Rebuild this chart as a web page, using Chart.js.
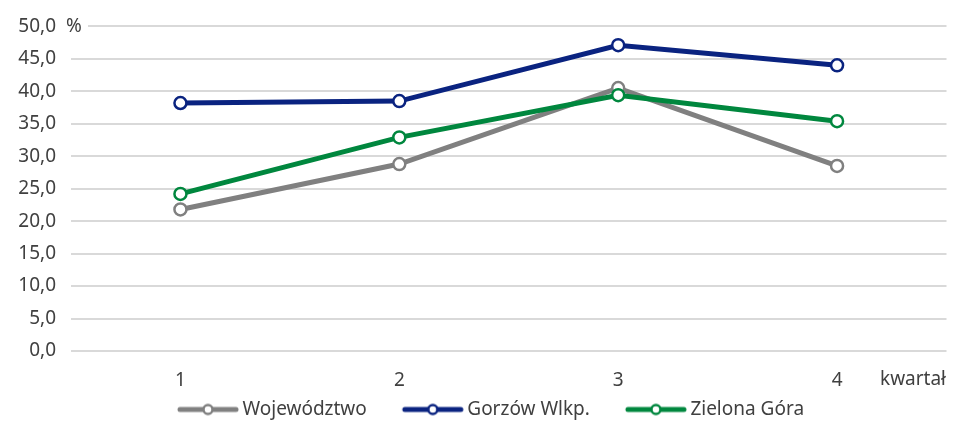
<!DOCTYPE html>
<html>
<head>
<meta charset="utf-8">
<script src="https://cdn.jsdelivr.net/npm/chart.js@4"></script>
<style>
  html, body { margin: 0; padding: 0; background: #fff; }
  #wrap { width: 955px; height: 421px; }
</style>
</head>
<body>
<div id="wrap"><canvas id="chart"></canvas></div>
<script>
const quarters = ['1', '2', '3', '4'];
const wojewodztwo = [21.8, 28.8, 40.5, 28.5];
const gorzow = [38.2, 38.5, 47.1, 44.0];
const zielonaGora = [24.2, 32.9, 39.4, 35.4];

const FONT = '"Noto Sans", sans-serif';
const TEXT = '#404040';
const FS = 19;

// small line+circle picture for the legend (transparent space on the left as item gap)
function legendIcon(color) {
    const c = document.createElement('canvas');
    c.width = 104; c.height = 14;
    const g = c.getContext('2d');
    g.strokeStyle = color; g.lineWidth = 5; g.lineCap = 'round';
    g.beginPath(); g.moveTo(44, 7); g.lineTo(100, 7); g.stroke();
    g.fillStyle = '#fff'; g.lineWidth = 2.5;
    g.beginPath(); g.arc(72, 7, 4.5, 0, Math.PI * 2); g.fill(); g.stroke();
    return c;
}

function series(label, data, color, order) {
    return {
        label: label,
        data: data,
        borderColor: color,
        backgroundColor: color,
        borderWidth: 5,
        pointRadius: 6,
        pointBorderWidth: 2.5,
        pointBackgroundColor: '#fff',
        pointBorderColor: color,
        icon: legendIcon(color),
        order: order,
        tension: 0
    };
}

// "%" over the top gridline and "kwartał" after the last category
const extraText = {
    id: 'extraText',
    afterDraw(chart) {
        const ctx = chart.ctx;
        const y = chart.scales.y;
        ctx.save();
        ctx.fillStyle = '#fff';
        ctx.fillRect(60, y.getPixelForValue(50) - 10, 28, 20);
        ctx.fillStyle = TEXT;
        ctx.font = FS + 'px ' + FONT;
        ctx.textBaseline = 'middle';
        ctx.textAlign = 'left';
        ctx.fillText('%', 66, y.getPixelForValue(50));
        ctx.fillText('kwartał', 880, 380);
        ctx.restore();
    }
};

new Chart(document.getElementById('chart'), {
    type: 'line',
    data: {
        labels: quarters,
        datasets: [
            series('Województwo', wojewodztwo, '#808080', 3),
            series('Gorzów Wlkp.', gorzow, '#0a2380', 2),
            series('Zielona Góra', zielonaGora, '#00873e', 1)
        ]
    },
    options: {
        responsive: true,
        maintainAspectRatio: false,
        animation: false,
        layout: { padding: { top: 18, right: 8, left: 0, bottom: -8 } },
        plugins: {
            legend: {
                position: 'bottom',
                labels: {
                    usePointStyle: true,
                    pointStyleWidth: 90,
                    color: TEXT,
                    font: { family: FONT, size: FS },
                    padding: 1,
                    sort: (a, b) => a.datasetIndex - b.datasetIndex,
                    generateLabels: chart => chart.data.datasets.map((ds, i) => ({
                        text: ds.label,
                        fontColor: TEXT,
                        pointStyle: ds.icon,
                        datasetIndex: i,
                        hidden: false,
                        lineWidth: 0,
                        strokeStyle: 'transparent',
                        fillStyle: 'transparent'
                    }))
                }
            },
            tooltip: { enabled: false }
        },
        scales: {
            x: {
                offset: true,
                grid: { display: false },
                border: { display: false },
                ticks: { color: TEXT, font: { family: FONT, size: FS }, padding: 10 },
                afterFit: s => { s.height = 48; }
            },
            y: {
                min: 0,
                max: 50,
                ticks: {
                    stepSize: 5,
                    color: TEXT,
                    font: { family: FONT, size: FS },
                    padding: 15,
                    callback: v => v.toFixed(1).replace('.', ',')
                },
                grid: { color: '#d9d9d9', lineWidth: 2, drawTicks: false },
                border: { display: false },
                afterFit: s => { s.width = 71; }
            }
        }
    },
    plugins: [extraText]
});
</script>
</body>
</html>
